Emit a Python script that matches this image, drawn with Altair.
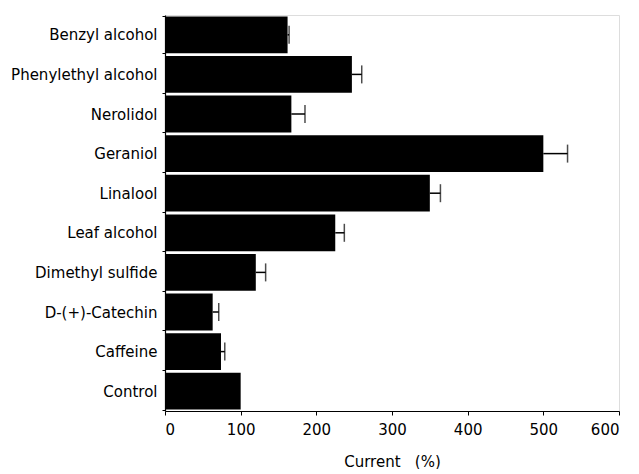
import altair as alt
import pandas as pd

categories = ["Benzyl alcohol", "Phenylethyl alcohol", "Nerolidol", "Geraniol", "Linalool",
              "Leaf alcohol", "Dimethyl sulfide", "D-(+)-Catechin", "Caffeine", "Control"]
values = [162, 247, 167, 500, 350, 225, 120, 63, 74, 100]
errors = [2, 13, 18, 32, 14, 12, 13, 8, 5, 0]
x_ticks = [0, 50, 100, 150, 200, 250, 300, 350, 400, 450, 500, 550, 600]

df = pd.DataFrame({"compound": categories, "current": values, "err": errors})
df["upper"] = df["current"] + df["err"]
err_df = df[df["err"] > 0]

FONT = "DejaVu Sans"

y_enc = alt.Y(
    "compound:N", sort=categories, title=None,
    scale=alt.Scale(paddingInner=0.07, paddingOuter=0.035),
    axis=alt.Axis(tickBand="extent", tickSize=3, labelPadding=5, labelFontSize=15,
                  labelFont=FONT, labelColor="black", domainColor="black",
                  tickColor="black", labelLimit=300, domainWidth=1.2),
)

x_enc = alt.X(
    "current:Q",
    scale=alt.Scale(domain=[0, 600], nice=False),
    title="Current\u00a0\u00a0\u00a0(%)",
    axis=alt.Axis(values=x_ticks, labelExpr="datum.value % 100 == 0 ? datum.label : ''",
                  tickSize=4, labelPadding=7, labelFontSize=15, labelFont=FONT,
                  labelColor="black", domainColor="black", tickColor="black",
                  grid=False, titleFont=FONT, titleFontSize=15, titleFontWeight="normal",
                  titleColor="black", titlePadding=17, domainWidth=1.2),
)

bars = alt.Chart(df).mark_bar(color="black").encode(x=x_enc, y=y_enc)

rules = alt.Chart(err_df).mark_rule(color="black", strokeWidth=1.5).encode(
    x="current:Q", x2="upper:Q", y=alt.Y("compound:N", sort=categories)
)

caps = alt.Chart(err_df).mark_tick(color="black", orient="vertical", size=18, thickness=1.5).encode(
    x="upper:Q", y=alt.Y("compound:N", sort=categories)
)

chart = alt.layer(bars, rules, caps).properties(
    width=454, height=396,
    padding={"left": 2, "top": 0, "right": 5, "bottom": 0},
).configure_view(stroke="black", strokeWidth=1.2).configure(background="white")

chart.save("out.html", embed_options={"renderer": "svg", "actions": False})
